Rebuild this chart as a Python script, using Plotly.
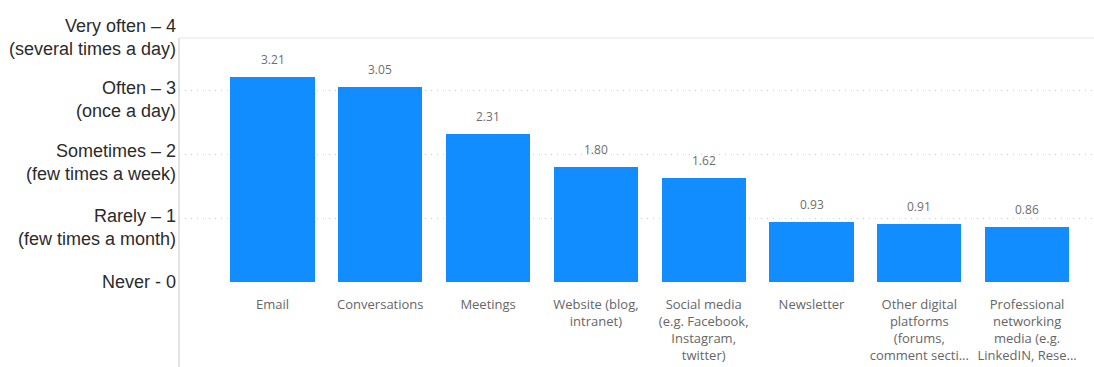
import plotly.graph_objects as go

# Communication channels and their mean frequency score (0 = never ... 4 = very often)
categories = [
    "Email",
    "Conversations",
    "Meetings",
    "Website (blog,<br>intranet)",
    "Social media<br>(e.g. Facebook,<br>Instagram,<br>twitter)",
    "Newsletter",
    "Other digital<br>platforms<br>(forums,<br>comment secti...",
    "Professional<br>networking<br>media (e.g.<br>LinkedIN, Rese...",
]
scores = [3.21, 3.05, 2.31, 1.80, 1.62, 0.93, 0.91, 0.86]

# Frequency scale labels shown on the left
scale_values = [4, 3, 2, 1, 0]
scale_main = ["Very often – 4", "Often – 3", "Sometimes – 2", "Rarely – 1", "Never - 0"]
scale_sub = ["(several times a day)", "(once a day)", "(few times a week)", "(few times a month)", ""]

W, H = 1094, 367
ML, MR, MT, MB = 179, 0, 38, 85
plot_h = H - MT - MB
px_per_unit = 64.0
y_top = plot_h / px_per_unit

xs = list(range(len(categories)))

fig = go.Figure()
fig.add_trace(go.Bar(
    x=xs,
    y=scores,
    width=0.78,
    marker=dict(color="#118DFF", line=dict(width=0)),
    hoverinfo="skip",
))

# Value labels above each bar
for x, v in zip(xs, scores):
    fig.add_annotation(
        x=x, y=v, xref="x", yref="y",
        text=f"{v:.2f}", showarrow=False,
        yanchor="bottom", yshift=7,
        font=dict(family="Open Sans", size=12, color="#6e6e6e"),
    )

# Frequency scale labels (placed in paper units so the top one can sit above the plot)
for val, main, sub in zip(scale_values, scale_main, scale_sub):
    text = main if not sub else f"{main}<br>{sub}"
    shift = {4: -12, 3: -9, 2: -8, 1: -10, 0: 0}[val]
    fig.add_annotation(
        x=0, xref="paper", xanchor="right", xshift=-1,
        y=val / y_top, yref="paper", yanchor="middle", yshift=shift,
        text=text, showarrow=False, align="right",
        font=dict(family="Liberation Sans, Arial", size=18, color="#2b2b2b"),
    )

# Frame lines: left rule and top rule
fig.add_shape(type="line", xref="paper", yref="paper",
              x0=0, x1=0, y0=1, y1=-MB / plot_h,
              line=dict(color="#c6c6c6", width=1))
fig.add_shape(type="line", xref="paper", yref="paper",
              x0=0, x1=1, y0=1, y1=1,
              line=dict(color="#e6e6e6", width=1))

spacing = 107.8
x_left = -(272.5 - ML) / spacing
x_right = (W - 272.5) / spacing

fig.update_layout(
    width=W, height=H,
    margin=dict(l=ML, r=MR, t=MT, b=MB),
    paper_bgcolor="white", plot_bgcolor="white",
    showlegend=False,
    bargap=0,
    xaxis=dict(
        range=[x_left, x_right],
        tickmode="array", tickvals=xs, ticktext=categories,
        showgrid=False, zeroline=False, showline=False,
        ticks="", tickangle=0, ticklabelstandoff=13,
        tickfont=dict(family="Open Sans", size=13, color="#666666"),
    ),
    yaxis=dict(
        range=[0, y_top],
        tickmode="array", tickvals=[0, 1, 2, 3],
        showticklabels=False,
        showgrid=True, gridcolor="#cfcfcf", gridwidth=1, griddash="1px,5px",
        zeroline=False, showline=False, ticks="",
    ),
)

fig.write_html("out.html")
